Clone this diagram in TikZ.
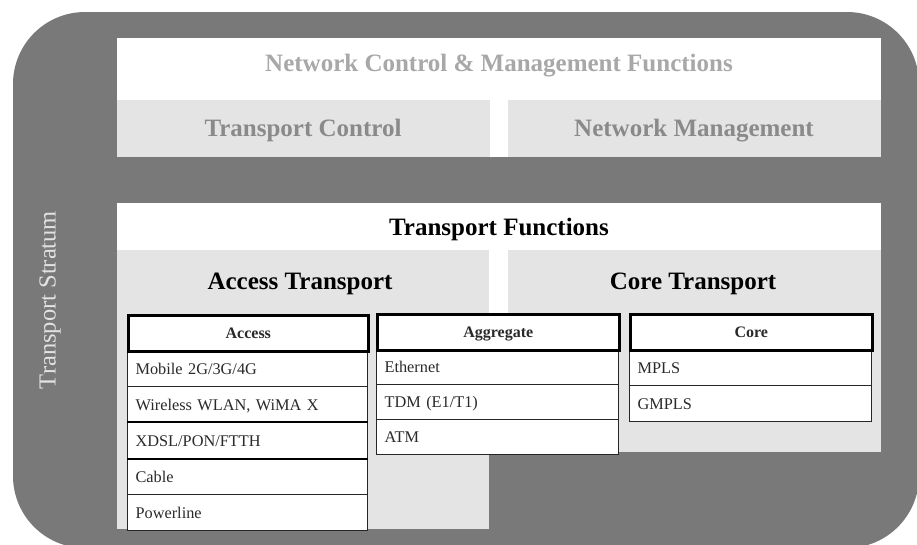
\documentclass[tikz,border=0pt]{standalone}
\usepackage{fontspec}
\setmainfont{Liberation Serif}
\definecolor{stratum}{HTML}{797979}
\definecolor{panel}{HTML}{E4E4E4}
\definecolor{fainttext}{HTML}{A8A8A8}
\definecolor{midtext}{HTML}{8A8A8A}
\definecolor{stratumtext}{HTML}{E2E2E2}
\definecolor{celltext}{HTML}{2A2A2A}
\begin{document}
\begin{tikzpicture}[x=1pt,y=-1pt,
  area/.style={anchor=north west, inner sep=0pt, draw=none},
  heading/.style={font=\bfseries\fontsize{25}{30}\selectfont,
    text height=17pt, text depth=5pt, inner sep=0pt},
  cellhead/.style={anchor=north west, draw=black, fill=white, line width=2.6pt,
    minimum width=#1, minimum height=36pt, inner sep=0pt,
    text height=10.8pt, text depth=0pt,
    font=\bfseries\fontsize{16}{18}\selectfont, text=celltext},
  cell/.style={anchor=north west, draw=black!85, fill=white, line width=1.2pt,
    text width=#1, inner xsep=8pt, inner ysep=0pt, minimum height=35pt,
    text height=10.8pt, text depth=0pt,
    align=left, font=\fontsize{16.3}{18}\selectfont, text=celltext},
]
\useasboundingbox (0,0) rectangle (917,544);

% outer stratum panel, partly running off the page
\begin{scope}
  \clip (0,0) rectangle (917,544);
  \fill[stratum, rounded corners=72pt] (13,12) rectangle (919,548);
\end{scope}
\node[rotate=90, text=stratumtext, font=\fontsize{24.5}{28}\selectfont] (stratumlbl) at (50,300) {Transport Stratum};

% control & management block
\node[area, fill=white, minimum width=764pt, minimum height=119pt] (ncmbg) at (117,38) {};
\node[area, fill=panel, minimum width=373pt, minimum height=57pt] (tcbg) at (117,100) {};
\node[area, fill=panel, minimum width=373pt, minimum height=57pt] (nmbg) at (508,100) {};
\node[heading, text=fainttext] (ncm) at (499,65) {Network Control \& Management Functions};
\node[heading, text=midtext] (tc) at (303,130.5) {Transport Control};
\node[heading, text=midtext] (nm) at (694,130.5) {Network Management};

% transport functions block
\node[area, fill=white, minimum width=764pt, minimum height=110pt] (tfbg) at (117,203) {};
\node[area, fill=panel, minimum width=372pt, minimum height=279pt] (atbg) at (117,250) {};
\node[area, fill=panel, minimum width=373pt, minimum height=202pt] (ctbg) at (508,250) {};
\node[heading, text=black] (tf) at (499,229.5) {Transport Functions};
\node[heading, text=black] (at) at (300,283) {Access Transport};
\node[heading, text=black] (ct) at (693,283) {Core Transport};

% access table
\node[cell=224pt, minimum height=36pt] (acc1) at (127,350) {Mobile 2G/3G/4G};
\node[cell=224pt, minimum height=36pt] (acc2) at (127,386) {Wireless WLAN, WiMA X};
\node[cell=224pt, minimum height=36pt] (acc3) at (127,422) {XDSL/PON/FTTH};
\node[cell=224pt, minimum height=36pt] (acc4) at (127,458) {Cable};
\node[cell=224pt, minimum height=36pt] (acc5) at (127,494) {Powerline};
\draw[line width=2pt] (acc3.north west) -- (acc3.north east);
\draw[line width=2pt] (acc3.south west) -- (acc3.south east);
\node[cellhead=240pt] (acch) at (127,314) {Access};

% aggregate table
\node[cell=226pt] (agg1) at (376,349) {Ethernet};
\node[cell=226pt] (agg2) at (376,384) {TDM (E1/T1)};
\node[cell=226pt] (agg3) at (376,419) {ATM};
\node[cellhead=242pt] (aggh) at (376,313) {Aggregate};

% core table
\node[cell=226pt, minimum height=36pt] (core1) at (629,349) {MPLS};
\node[cell=226pt, minimum height=36pt] (core2) at (629,385) {GMPLS};
\node[cellhead=242pt] (coreh) at (629,313) {Core};
\end{tikzpicture}
\end{document}
